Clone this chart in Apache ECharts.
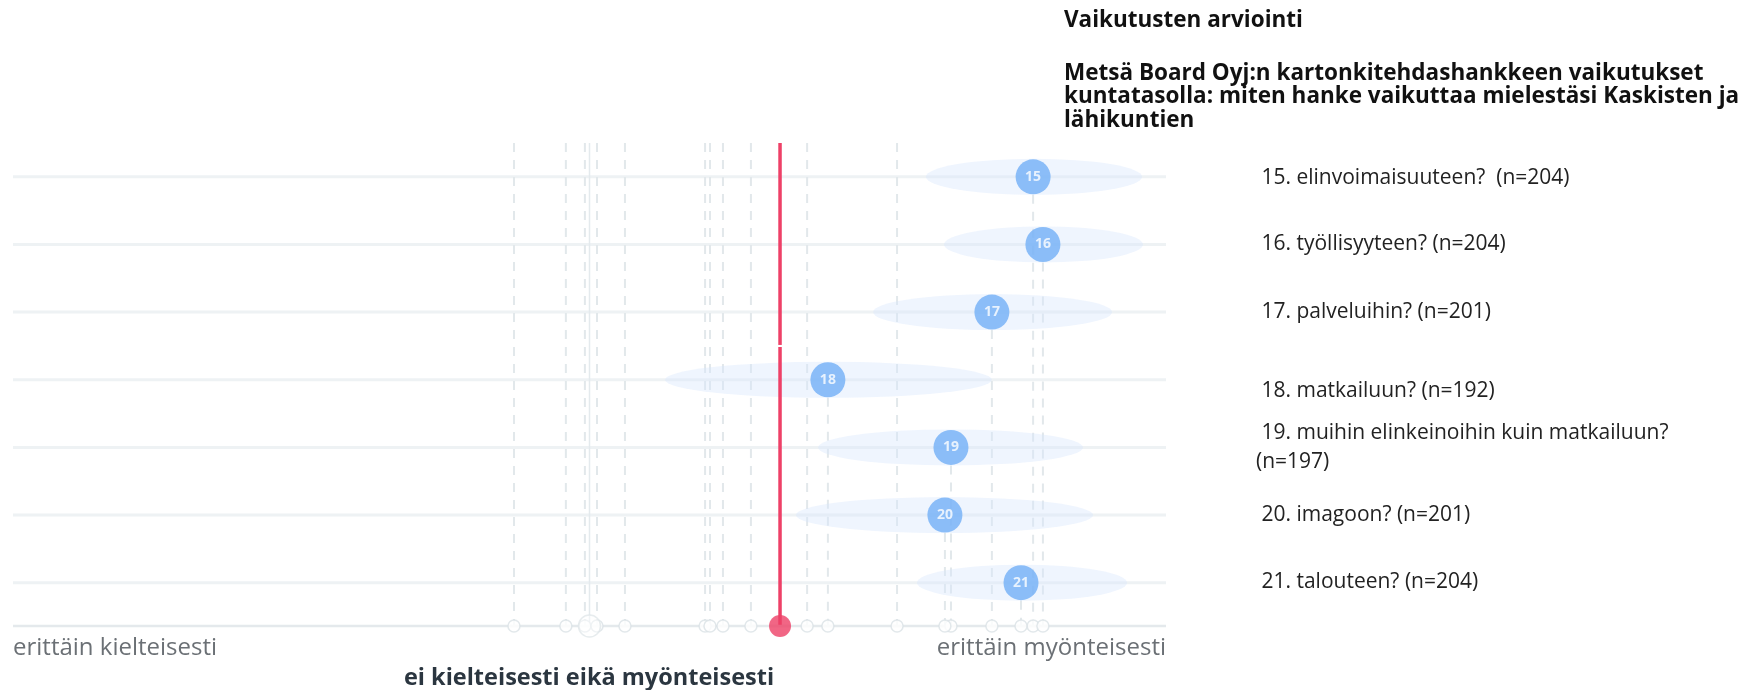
<!DOCTYPE html>
<html>
<head>
<meta charset="utf-8">
<script src="https://cdn.jsdelivr.net/npm/echarts@6/dist/echarts.min.js"></script>
<style>
html,body{margin:0;padding:0;background:#fff;}
#chart{width:1757px;height:690px;}
</style>
</head>
<body>
<div id="chart"></div>
<script>
// ---- data ----
const questions = ['15', '16', '17', '18', '19', '20', '21'];
const itemLabels = [
  ' 15. elinvoimaisuuteen?  (n=204)',
  ' 16. työllisyyteen? (n=204)',
  ' 17. palveluihin? (n=201)',
  ' 18. matkailuun? (n=192)',
  ' 19. muihin elinkeinoihin kuin matkailuun?\n(n=197)',
  ' 20. imagoon? (n=201)',
  ' 21. talouteen? (n=204)'
];
const means     = [4.539, 4.573, 4.396, 3.827, 4.254, 4.233, 4.497];
const rangeLow  = [4.167, 4.230, 3.984, 3.262, 3.793, 3.716, 4.136];
const rangeHigh = [4.917, 4.920, 4.813, 4.396, 4.712, 4.747, 4.865];
const otherMeans = [2.738, 2.918, 2.984, 3.026, 3.123, 3.401, 3.418, 3.463, 3.560, 3.755, 4.067];
const referenceValue = 3.661;
const neutralValue = 3;
const scaleMin = 1, scaleMax = 5;
const scaleLabels = ['erittäin kielteisesti', 'ei kielteisesti eikä myönteisesti', 'erittäin myönteisesti'];
const titleMain = 'Vaikutusten arviointi';
const titleSub = 'Metsä Board Oyj:n kartonkitehdashankkeen vaikutukset\nkuntatasolla: miten hanke vaikuttaa mielestäsi Kaskisten ja\nlähikuntien';

// ---- layout helpers ----
const AXIS_LEVEL = 7.14; // bottom of the y scale where the value axis sits
const RED_BREAK = 3;     // small break in the reference line between rows 17 and 18
const rowPos = i => i + 0.5;
const labelY = [178, 244, 312, 391, 448, 515, 582];

const chart = echarts.init(document.getElementById('chart'), null, {renderer: 'canvas'});

const LINE_GRAY = '#eef2f4';
const DASH_GRAY = '#e2e8eb';
const BUBBLE = '#72aff6';
const RED = '#ee4067';
const FONT = '"Open Sans"';

const rowData = questions.map((q, i) => [scaleMin, scaleMax, rowPos(i)]);
const ellipseData = questions.map((q, i) => [rangeLow[i], rangeHigh[i], rowPos(i)]);
const meanData = questions.map((q, i) => [means[i], rowPos(i), q]);
const axisPoints = otherMeans.concat(means).map(v => [v, AXIS_LEVEL]);

function vline(v, y0, y1, api, style, offset, endOffset) {
  const a = api.coord([v, y0]);
  const b = api.coord([v, y1]);
  return {type: 'line', shape: {x1: a[0], y1: a[1] + (offset || 0), x2: b[0], y2: b[1] + (endOffset || 0)}, style: style};
}

const option = {
  animation: false,
  grid: {left: 13, right: 591, top: 143, bottom: 64},
  xAxis: {type: 'value', min: scaleMin, max: scaleMax, show: false},
  yAxis: {type: 'value', min: 0, max: AXIS_LEVEL, inverse: true, show: false},
  series: [
    { // row lines
      type: 'custom', z: 1, silent: true,
      data: rowData,
      renderItem: (params, api) => {
        const a = api.coord([api.value(0), api.value(2)]);
        const b = api.coord([api.value(1), api.value(2)]);
        return {type: 'line', shape: {x1: a[0], y1: a[1], x2: b[0], y2: b[1]},
          style: {stroke: LINE_GRAY, lineWidth: 3}};
      }
    },
    { // full height dashed lines for other items
      type: 'custom', z: 2, silent: true,
      data: otherMeans.map(v => [v]),
      renderItem: (params, api) => vline(api.value(0), 0, AXIS_LEVEL, api,
        {stroke: DASH_GRAY, lineWidth: 2, lineDash: [9, 8]})
    },
    { // neutral solid line
      type: 'custom', z: 2, silent: true,
      data: [[neutralValue]],
      renderItem: (params, api) => vline(api.value(0), 0, AXIS_LEVEL, api,
        {stroke: '#e4eaed', lineWidth: 1.5})
    },
    { // dashed lines from bubbles down to axis
      type: 'custom', z: 2, silent: true,
      data: meanData,
      renderItem: (params, api) => vline(api.value(0), api.value(1), AXIS_LEVEL, api,
        {stroke: DASH_GRAY, lineWidth: 2, lineDash: [9, 8]}, 18)
    },
    { // ellipses (spread)
      type: 'custom', z: 3, silent: true,
      data: ellipseData,
      renderItem: (params, api) => {
        const a = api.coord([api.value(0), api.value(2)]);
        const b = api.coord([api.value(1), api.value(2)]);
        const rx = (b[0] - a[0]) / 2;
        const ry = 18;
        return {type: 'circle', x: (a[0] + b[0]) / 2, y: a[1], scaleX: rx / ry, scaleY: 1,
          shape: {cx: 0, cy: 0, r: ry},
          style: {fill: 'rgba(214,231,252,0.40)'}};
      }
    },
    { // reference red line (two segments with a tiny break)
      type: 'custom', z: 4, silent: true,
      data: [[referenceValue, 0, RED_BREAK], [referenceValue, RED_BREAK, AXIS_LEVEL]],
      renderItem: (params, api) => vline(api.value(0), api.value(1), api.value(2), api,
        {stroke: RED, lineWidth: 3.5},
        params.dataIndex === 1 ? 1 : 0, params.dataIndex === 0 ? -1 : 0)
    },
    { // bottom axis line
      type: 'custom', z: 5, silent: true,
      data: [[scaleMin, scaleMax]],
      renderItem: (params, api) => {
        const a = api.coord([api.value(0), AXIS_LEVEL]);
        const b = api.coord([api.value(1), AXIS_LEVEL]);
        return {type: 'line', shape: {x1: a[0], y1: a[1], x2: b[0], y2: b[1]},
          style: {stroke: '#e4e9ec', lineWidth: 2.5}};
      }
    },
    { // axis small circles
      type: 'scatter', z: 6, silent: true,
      data: axisPoints,
      symbol: 'circle', symbolSize: 12,
      itemStyle: {color: '#fff', borderColor: '#dbe2e6', borderWidth: 1.5}
    },
    { // neutral big circle
      type: 'scatter', z: 6, silent: true,
      data: [[neutralValue, AXIS_LEVEL]],
      symbol: 'circle', symbolSize: 22,
      itemStyle: {color: 'rgba(255,255,255,0.6)', borderColor: '#e1e7ea', borderWidth: 1.5}
    },
    { // red dot
      type: 'scatter', z: 7, silent: true,
      data: [[referenceValue, AXIS_LEVEL]],
      symbol: 'circle', symbolSize: 22,
      itemStyle: {color: RED}
    },
    { // bubbles
      type: 'scatter', z: 8, silent: true,
      data: meanData,
      symbol: 'circle', symbolSize: 35,
      itemStyle: {color: BUBBLE},
      label: {show: true, position: 'inside', formatter: p => p.data[2],
        color: '#fff', fontWeight: 'bold', fontSize: 14, fontFamily: 'Noto Sans'}
    }
  ],
  graphic: [
    {type: 'text', x: 1064, y: 21, style: {text: titleMain, font: 'bold 22.5px ' + FONT, fill: '#111', verticalAlign: 'middle'}},
    {type: 'text', x: 1064, y: 97, style: {text: titleSub, font: 'bold 22.5px ' + FONT, lineHeight: 23.5, fill: '#111', verticalAlign: 'middle'}}
  ].concat(itemLabels.map((t, i) => ({
    type: 'text', x: 1256, y: labelY[i],
    style: {text: t, font: '21px ' + FONT, lineHeight: 29, fill: '#222', verticalAlign: 'middle'}
  }))).concat([
    {type: 'text', x: 13, y: 648, style: {text: scaleLabels[0], font: '24px ' + FONT, fill: '#6b7075', verticalAlign: 'middle'}},
    {type: 'text', x: 1166, y: 648, style: {text: scaleLabels[2], font: '24px ' + FONT, fill: '#6b7075', align: 'right', verticalAlign: 'middle'}},
    {type: 'text', x: 589, y: 678, style: {text: scaleLabels[1], font: 'bold 23.5px ' + FONT, fill: '#2b3640', align: 'center', verticalAlign: 'middle'}}
  ])
};
chart.setOption(option);
</script>
</body>
</html>
